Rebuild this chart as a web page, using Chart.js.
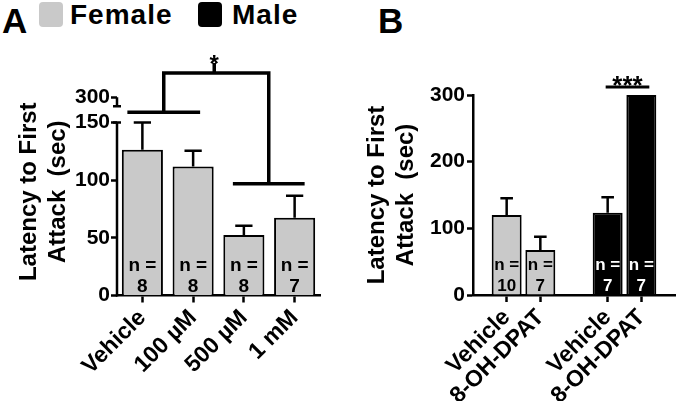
<!DOCTYPE html>
<html>
<head>
<meta charset="utf-8">
<script src="https://cdn.jsdelivr.net/npm/chart.js@4.4.1/dist/chart.umd.min.js"></script>
<style>
  body { margin: 0; background: #fff; width: 677px; height: 401px; position: relative; overflow: hidden;
         font-family: "Liberation Sans", Arial, sans-serif; }
  canvas { position: absolute; top: 0; }
  #chartA { left: 0; }
  #chartB { left: 360px; }
  .panel { position: absolute; top: 3px; font-size: 35px; font-weight: bold; line-height: 1; }
  .key { position: absolute; top: 2px; width: 24px; height: 25px; border-radius: 4px; }
  .keytext { position: absolute; top: 1px; font-size: 28px; font-weight: bold; line-height: 1; letter-spacing: 1px; }
</style>
</head>
<body>
<div class="panel" style="left:2px">A</div>
<div class="key" style="left:39px;background:#c9c9c9"></div>
<div class="keytext" style="left:70px">Female</div>
<div class="key" style="left:198px;background:#000"></div>
<div class="keytext" style="left:232px">Male</div>
<div class="panel" style="left:378px">B</div>
<canvas id="chartA" width="330" height="401"></canvas>
<canvas id="chartB" width="317" height="401"></canvas>
<script>
var femaleGrey = '#c9c9c9';
var maleBlack = '#000000';

// panel A - dose response (females)
var doseLabels = ['Vehicle', '100 µM', '500 µM', '1 mM'];
var doseMeans = [126.5, 112, 52.5, 67.5];
var doseSem = [23.5, 13.5, 8, 19];
var doseN = [8, 8, 8, 7];
var doseTicks = [0, 50, 100, 150];
var breakTick = 172;      // axis position of the "300" tick above the break
var breakLabel = '300';
var sigLeftLevel = 159, sigRightLevel = 97, sigTopLevel = 193;

// panel B - 8-OH-DPAT by sex
var dpatLabels = ['Vehicle', '8-OH-DPAT', 'Vehicle', '8-OH-DPAT'];
var dpatMeans = [120, 67.5, 123.5, 300];
var dpatSem = [25, 20, 23, 0];
var dpatN = [10, 7, 7, 7];
var dpatSex = ['Female', 'Female', 'Male', 'Male'];
var dpatTicks = [0, 100, 200, 300];
var sigDpatLevel = 312;

Chart.defaults.font.family = '"Liberation Sans", Arial, sans-serif';
Chart.defaults.font.weight = 'bold';
Chart.defaults.color = '#000';

function noEdgePadding(s, h) {
  s.height = h;
  s.paddingLeft = 0;
  s.paddingRight = 0;
}

function barExtras(sem, nums, textColors, fontSize) {
  return {
    id: 'barExtras',
    afterDatasetsDraw: function (chart) {
      var ctx = chart.ctx;
      var y = chart.scales.y;
      var meta = chart.getDatasetMeta(0);
      var bottom = y.getPixelForValue(0);
      ctx.save();
      meta.data.forEach(function (bar, i) {
        if (sem[i] == null) return;
        var mean = chart.data.datasets[0].data[i];
        if (sem[i] > 0) {
          var top = y.getPixelForValue(mean + sem[i]);
          var cap = bar.width * 0.42;
          ctx.strokeStyle = '#000';
          ctx.lineWidth = 2.5;
          ctx.beginPath();
          ctx.moveTo(bar.x, bar.y);
          ctx.lineTo(bar.x, top);
          ctx.moveTo(bar.x - cap / 2, top);
          ctx.lineTo(bar.x + cap / 2, top);
          ctx.stroke();
        }
        ctx.fillStyle = textColors[i];
        ctx.font = 'bold ' + fontSize + 'px "Liberation Sans", Arial, sans-serif';
        ctx.textAlign = 'center';
        ctx.textBaseline = 'middle';
        ctx.fillText('n =', bar.x, bottom - 30);
        ctx.fillText(String(nums[i]), bar.x, bottom - 9);
      });
      ctx.restore();
    }
  };
}

// ---- panel A ----
var sigA = {
  id: 'sigA',
  afterDraw: function (chart) {
    var ctx = chart.ctx;
    var y = chart.scales.y;
    var bars = chart.getDatasetMeta(0).data;
    var ax = chart.chartArea.left;
    ctx.save();
    ctx.strokeStyle = '#000';
    // broken y axis
    ctx.lineWidth = 2.5;
    ctx.beginPath();
    ctx.moveTo(ax, y.getPixelForValue(0) + 1);
    ctx.lineTo(ax, y.getPixelForValue(150));
    ctx.moveTo(ax - 4, y.getPixelForValue(150));
    ctx.lineTo(ax + 4, y.getPixelForValue(150));
    var bt = y.getPixelForValue(breakTick);
    ctx.moveTo(ax, bt);
    ctx.lineTo(ax, bt + 9);
    ctx.moveTo(ax - 4, bt + 9);
    ctx.lineTo(ax + 4, bt + 9);
    ctx.stroke();
    // significance bracket
    var yl = y.getPixelForValue(sigLeftLevel);
    var yr = y.getPixelForValue(sigRightLevel);
    var yt = y.getPixelForValue(sigTopLevel);
    var l1 = bars[0].x - 15, l2 = bars[1].x + 7;
    var r1 = bars[2].x - 11, r2 = bars[3].x + 10;
    var lm = (l1 + l2) / 2, rm = (r1 + r2) / 2;
    var mid = (lm + rm) / 2 - 2;
    ctx.lineWidth = 3.5;
    ctx.beginPath();
    ctx.moveTo(l1, yl); ctx.lineTo(l2, yl);
    ctx.moveTo(r1, yr); ctx.lineTo(r2, yr);
    ctx.moveTo(lm, yl); ctx.lineTo(lm, yt); ctx.lineTo(rm, yt); ctx.lineTo(rm, yr);
    ctx.moveTo(mid, yt); ctx.lineTo(mid, yt - 10);
    ctx.stroke();
    ctx.fillStyle = '#000';
    ctx.font = 'bold 24px "Liberation Sans", Arial, sans-serif';
    ctx.textAlign = 'center';
    ctx.textBaseline = 'alphabetic';
    ctx.fillText('*', mid, yt - 1);
    ctx.restore();
  }
};

new Chart(document.getElementById('chartA'), {
  type: 'bar',
  data: {
    labels: doseLabels,
    datasets: [{
      label: 'Female',
      data: doseMeans,
      backgroundColor: femaleGrey,
      borderColor: '#000',
      borderWidth: 2,
      barPercentage: 0.81,
      categoryPercentage: 1
    }]
  },
  options: {
    responsive: false,
    animation: false,
    layout: { padding: { top: 88, right: 10, left: 0, bottom: 0 } },
    plugins: { legend: { display: false }, tooltip: { enabled: false } },
    scales: {
      x: {
        afterFit: function (s) { noEdgePadding(s, 105.5); },
        grid: { display: true, drawOnChartArea: false, offset: false, tickLength: 7, tickColor: '#000', tickWidth: 2.5 },
        border: { display: true, color: '#000', width: 2.5 },
        ticks: { autoSkip: false, minRotation: 45, maxRotation: 45, padding: 2, font: { size: 23, weight: 'bold' }, color: '#000' }
      },
      y: {
        min: 0,
        max: 180,
        afterFit: function (s) { s.width = 117; },
        afterBuildTicks: function (s) {
          s.ticks = doseTicks.concat([breakTick]).map(function (v) { return { value: v }; });
        },
        grid: { drawOnChartArea: false, tickLength: 6, tickColor: '#000', tickWidth: 2.5 },
        border: { display: false },
        ticks: {
          padding: 1,
          font: { size: 21, weight: 'bold' },
          color: '#000',
          callback: function (v) { return v === breakTick ? breakLabel : v; }
        },
        title: {
          display: true,
          text: ['Latency to First', 'Attack  (sec)'],
          font: { size: 24, weight: 'bold' },
          color: '#000',
          padding: { top: 15, bottom: 0 }
        }
      }
    }
  },
  plugins: [barExtras(doseSem, doseN, doseMeans.map(function () { return '#000'; }), 19), sigA]
});

// ---- panel B ----
// gap slots around and between the female and male pairs
var slotLabels = ['', dpatLabels[0], dpatLabels[1], '', dpatLabels[2], dpatLabels[3], ''];
var slotMeans = [null, dpatMeans[0], dpatMeans[1], null, dpatMeans[2], dpatMeans[3], null];
var slotSem = [null, dpatSem[0], dpatSem[1], null, dpatSem[2], dpatSem[3], null];
var slotN = [null, dpatN[0], dpatN[1], null, dpatN[2], dpatN[3], null];
var slotSex = [null, dpatSex[0], dpatSex[1], null, dpatSex[2], dpatSex[3], null];
var slotFill = slotSex.map(function (s) { return s === 'Male' ? maleBlack : femaleGrey; });
var slotText = slotSex.map(function (s) { return s === 'Male' ? '#fff' : '#000'; });

var sigB = {
  id: 'sigB',
  afterDraw: function (chart) {
    var ctx = chart.ctx;
    var y = chart.scales.y;
    var bars = chart.getDatasetMeta(0).data;
    var yl = y.getPixelForValue(sigDpatLevel);
    ctx.save();
    ctx.strokeStyle = '#000';
    ctx.lineWidth = 3;
    ctx.beginPath();
    ctx.moveTo(bars[4].x - 2, yl);
    ctx.lineTo(bars[5].x + 8, yl);
    ctx.stroke();
    ctx.fillStyle = '#000';
    ctx.font = 'bold 26px "Liberation Sans", Arial, sans-serif';
    ctx.textAlign = 'center';
    ctx.textBaseline = 'alphabetic';
    ctx.fillText('***', (bars[4].x + bars[5].x) / 2 + 3, yl + 7);
    ctx.restore();
  }
};

new Chart(document.getElementById('chartB'), {
  type: 'bar',
  data: {
    labels: slotLabels,
    datasets: [{
      data: slotMeans,
      backgroundColor: slotFill,
      borderColor: '#000',
      borderWidth: 2,
      barPercentage: 0.89,
      categoryPercentage: 1
    }]
  },
  options: {
    responsive: false,
    animation: false,
    layout: { padding: { top: 95, right: 2, left: 0, bottom: 0 } },
    plugins: { legend: { display: false }, tooltip: { enabled: false } },
    scales: {
      x: {
        offset: false,
        afterFit: function (s) { noEdgePadding(s, 106); },
        grid: {
          display: true, drawOnChartArea: false, offset: false, tickLength: 7, tickWidth: 2.5,
          tickColor: function (c) { return c.tick && c.tick.label === '' ? 'rgba(0,0,0,0)' : '#000'; }
        },
        border: { display: true, color: '#000', width: 2.5 },
        ticks: { autoSkip: false, minRotation: 45, maxRotation: 45, padding: 2, font: { size: 23, weight: 'bold' }, color: '#000' }
      },
      y: {
        min: 0,
        max: 300,
        afterFit: function (s) { s.width = 113; },
        afterBuildTicks: function (s) {
          s.ticks = dpatTicks.map(function (v) { return { value: v }; });
        },
        grid: { drawOnChartArea: false, tickLength: 6, tickColor: '#000', tickWidth: 2.5 },
        border: { display: true, color: '#000', width: 2.5 },
        ticks: { padding: 2, font: { size: 21, weight: 'bold' }, color: '#000' },
        title: {
          display: true,
          text: ['Latency to First', 'Attack  (sec)'],
          font: { size: 24, weight: 'bold' },
          color: '#000',
          padding: { top: 3, bottom: 0 }
        }
      }
    }
  },
  plugins: [barExtras(slotSem, slotN, slotText, 17), sigB]
});
</script>
</body>
</html>
